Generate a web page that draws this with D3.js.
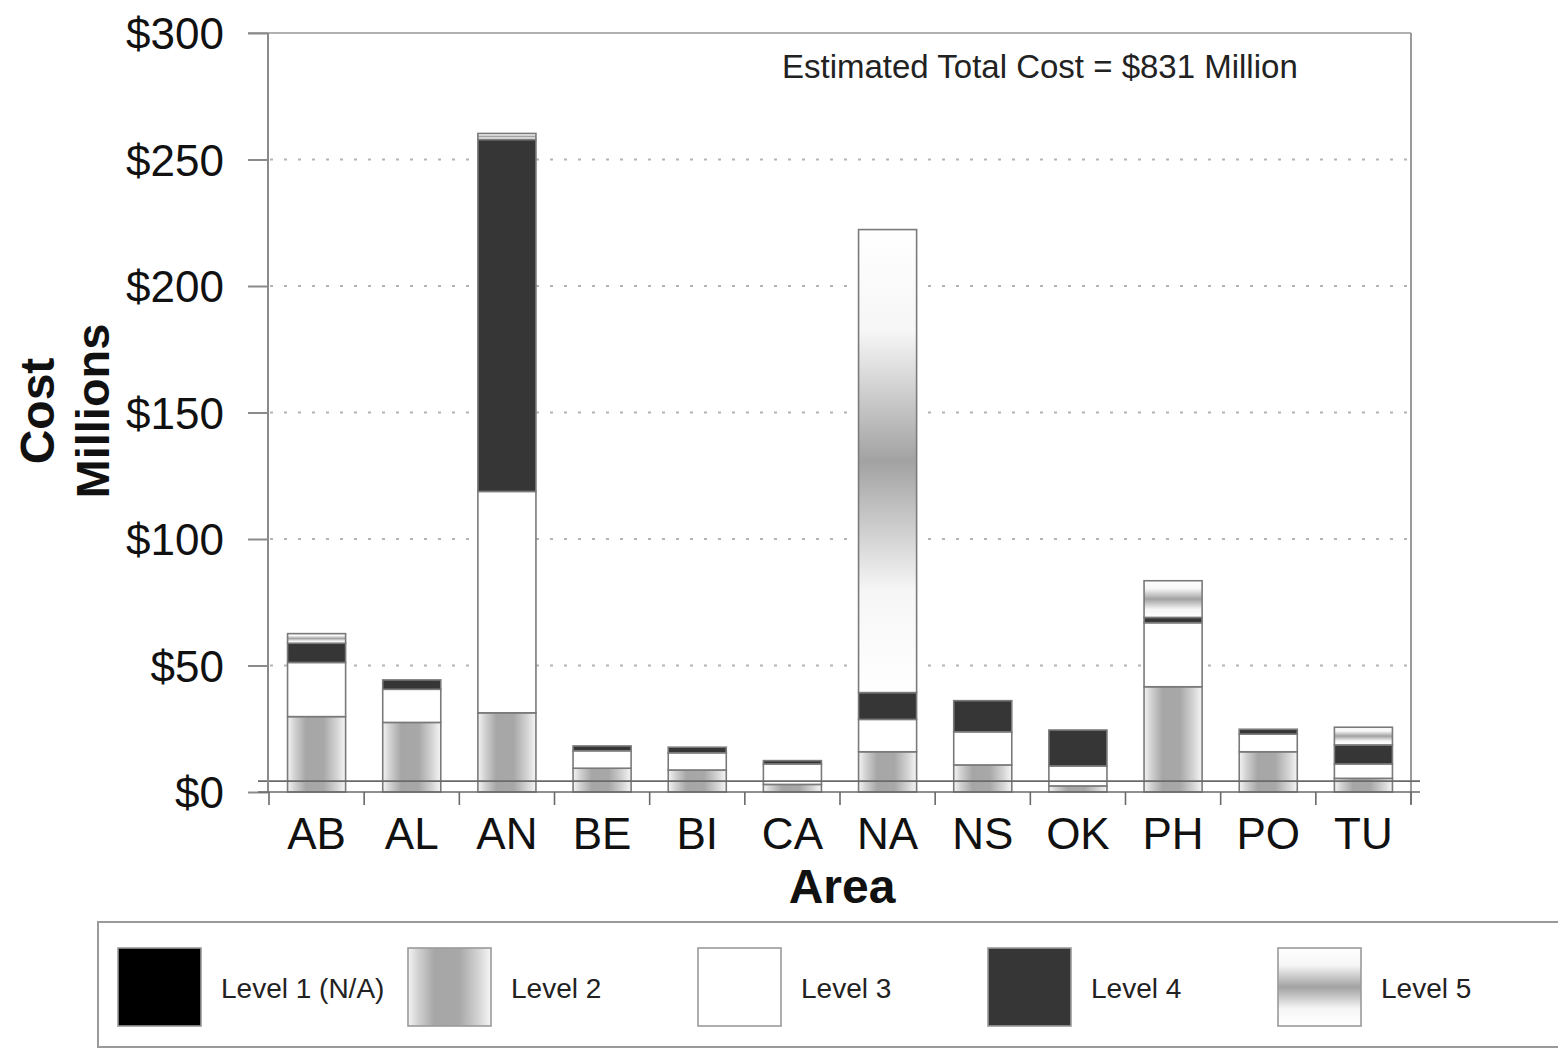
<!DOCTYPE html>
<html>
<head>
<meta charset="utf-8">
<script src="https://cdn.jsdelivr.net/npm/d3@7"></script>
<style>
  html, body { margin: 0; padding: 0; background: #fff; }
  svg { display: block; font-family: "Liberation Sans", Arial, Helvetica, sans-serif; }
</style>
</head>
<body>
<svg id="chart" width="1558" height="1049"></svg>
<script>
// ---- Data ----
const categories = ["AB","AL","AN","BE","BI","CA","NA","NS","OK","PH","PO","TU"];
const level1 = [0, 0, 0, 0, 0, 0, 0, 0, 0, 0, 0, 0];
const level2 = [29.8, 27.5, 31.3, 9.4, 8.7, 3.0, 15.9, 10.7, 2.4, 41.6, 15.9, 5.4];
const level3 = [21.4, 13.1, 87.5, 6.9, 6.8, 8.1, 12.8, 13.1, 7.9, 25.3, 7.0, 5.7];
const level4 = [7.6, 3.7, 139.1, 1.9, 2.2, 1.3, 10.6, 12.3, 14.2, 2.1, 1.9, 7.5];
const level5 = [3.8, 0, 2.4, 0, 0, 0, 183.0, 0, 0, 14.5, 0, 7.0];
const seriesNames = ["Level 1 (N/A)", "Level 2", "Level 3", "Level 4", "Level 5"];
const yTicks = [0, 50, 100, 150, 200, 250, 300];
const gridTicks = [50, 100, 150, 200, 250];
const baseLineValue = 4.3;
const annotation = "Estimated Total Cost = $831 Million";

// ---- Build table ----
const keys = ["l1","l2","l3","l4","l5"];
const table = categories.map((c, i) => ({
  cat: c, l1: level1[i], l2: level2[i], l3: level3[i], l4: level4[i], l5: level5[i]
}));
const stacked = d3.stack().keys(keys)(table);

const svg = d3.select("#chart");
const defs = svg.append("defs");

// Level 2: horizontal gradient (gray in middle column)
const g2 = defs.append("linearGradient").attr("id", "grad2")
  .attr("x1", "0").attr("y1", "0").attr("x2", "1").attr("y2", "0");
[[0,"#f4f4f4"],[0.12,"#d2d2d2"],[0.32,"#a6a6a6"],[0.62,"#a8a8a8"],[0.85,"#d4d4d4"],[1,"#f6f6f6"]]
  .forEach(([o,c]) => g2.append("stop").attr("offset", o).attr("stop-color", c));
// Level 5: vertical gradient (gray band in middle row)
const g5 = defs.append("linearGradient").attr("id", "grad5")
  .attr("x1", "0").attr("y1", "0").attr("x2", "0").attr("y2", "1");
[[0,"#ffffff"],[0.22,"#f6f6f6"],[0.5,"#a2a2a2"],[0.78,"#f6f6f6"],[1,"#ffffff"]]
  .forEach(([o,c]) => g5.append("stop").attr("offset", o).attr("stop-color", c));

const fills = { l1: "#000000", l2: "url(#grad2)", l3: "#ffffff", l4: "#363636", l5: "url(#grad5)" };

// ---- Scales ----
const x = d3.scaleBand().domain(categories).range([269, 1411]).padding(0);
const y = d3.scaleLinear().domain([0, 300]).range([792, 33]);
const barFrac = 0.61;
const bw = x.bandwidth() * barFrac;
const bOff = (x.bandwidth() - bw) / 2;

// ---- Grid ----
svg.append("g").selectAll("line").data(gridTicks).join("line")
  .attr("x1", 270).attr("x2", 1410)
  .attr("y1", d => y(d)).attr("y2", d => y(d))
  .attr("stroke", "#b4b4b4").attr("stroke-width", 2)
  .attr("stroke-dasharray", "3,11");

// Frame: top and right
svg.append("line").attr("x1", 248).attr("x2", 1411).attr("y1", y(300)).attr("y2", y(300))
  .attr("stroke", "#b0b0b0").attr("stroke-width", 2);
svg.append("line").attr("x1", 1411).attr("x2", 1411).attr("y1", y(300)).attr("y2", y(0) + 12)
  .attr("stroke", "#9a9a9a").attr("stroke-width", 2);

// ---- Bars ----
const layers = svg.append("g").selectAll("g").data(stacked).join("g")
  .attr("fill", d => fills[d.key]);
layers.selectAll("rect").data(d => d.filter(p => p[1] - p[0] > 0)).join("rect")
  .attr("x", p => x(p.data.cat) + bOff)
  .attr("width", bw)
  .attr("y", p => y(p[1]))
  .attr("height", p => y(p[0]) - y(p[1]))
  .attr("stroke", "#7a7a7a").attr("stroke-width", 1.6);

// base reference line (slightly above zero)
svg.append("line").attr("x1", 258).attr("x2", 1420)
  .attr("y1", y(baseLineValue)).attr("y2", y(baseLineValue))
  .attr("stroke", "#6a6a6a").attr("stroke-width", 1.6);

// ---- Y axis ----
const yAxis = d3.axisLeft(y).tickValues(yTicks).tickSize(20).tickPadding(24)
  .tickFormat(d => "$" + d);
const gy = svg.append("g").attr("transform", "translate(268,0)").call(yAxis);
gy.select(".domain").attr("stroke", "#8a8a8a").attr("stroke-width", 2).attr("d", "M0," + y(300) + "V" + y(0));
gy.selectAll(".tick line").attr("stroke", "#8a8a8a").attr("stroke-width", 2);
gy.selectAll(".tick text").attr("fill", "#111").style("font-size", "44px")
  .style("font-family", "'Liberation Sans', Arial, sans-serif").attr("dy", "0.36em");

// ---- X axis ----
const xAxis = d3.axisBottom(x).tickSize(0).tickPadding(26);
const gx = svg.append("g").attr("transform", "translate(0," + y(0) + ")").call(xAxis);
gx.select(".domain").attr("stroke", "#6a6a6a").attr("stroke-width", 1.6).attr("d", "M258,0H1420");
gx.selectAll(".tick text").attr("fill", "#111").style("font-size", "44px")
  .style("font-family", "'Liberation Sans', Arial, sans-serif");
// boundary ticks
const bounds = categories.map(c => x(c)).concat([x(categories[categories.length - 1]) + x.bandwidth()]);
svg.append("g").selectAll("line").data(bounds).join("line")
  .attr("x1", d => d).attr("x2", d => d)
  .attr("y1", y(0)).attr("y2", y(0) + 13)
  .attr("stroke", "#6a6a6a").attr("stroke-width", 1.6);

// ---- Axis titles ----
svg.append("text").attr("x", 842).attr("y", 903).attr("text-anchor", "middle")
  .style("font-size", "48px").style("font-weight", "bold").attr("fill", "#111").text("Area");
svg.append("text").attr("transform", "translate(54,411) rotate(-90)").attr("text-anchor", "middle")
  .style("font-size", "48px").style("font-weight", "bold").attr("fill", "#111").text("Cost");
svg.append("text").attr("transform", "translate(109,411) rotate(-90)").attr("text-anchor", "middle")
  .style("font-size", "47px").style("font-weight", "bold").attr("fill", "#111").text("Millions");

// annotation
svg.append("text").attr("x", 782).attr("y", 78)
  .style("font-size", "33px").attr("fill", "#222").text(annotation);

// ---- Legend ----
svg.append("rect").attr("x", 98).attr("y", 922).attr("width", 1470).attr("height", 125)
  .attr("fill", "#fff").attr("stroke", "#9a9a9a").attr("stroke-width", 2);
const legendX = d3.scalePoint().domain(keys).range([118, 1278]);
const lg = svg.append("g").selectAll("g").data(keys).join("g")
  .attr("transform", k => "translate(" + legendX(k) + ",948)");
lg.append("rect").attr("width", 83).attr("height", 78)
  .attr("fill", k => fills[k]).attr("stroke", "#9a9a9a").attr("stroke-width", 1.6);
lg.append("text").attr("x", 103).attr("y", 50)
  .style("font-size", "28px").attr("fill", "#222")
  .text((k, i) => seriesNames[i]);
</script>
</body>
</html>
